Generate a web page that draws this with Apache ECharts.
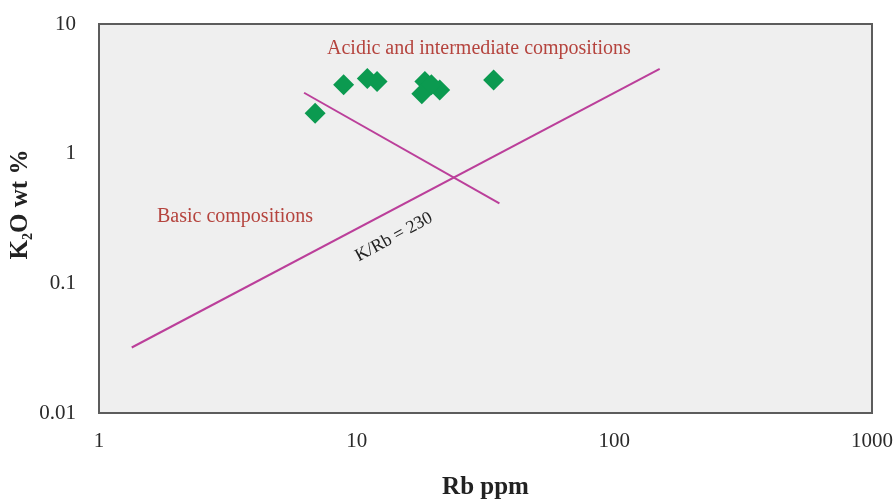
<!DOCTYPE html>
<html>
<head>
<meta charset="utf-8">
<script src="https://cdn.jsdelivr.net/npm/echarts@6/dist/echarts.min.js"></script>
<style>
  html, body { margin: 0; padding: 0; background: #fff; }
  #main { width: 895px; height: 499px; }
</style>
</head>
<body>
<div id="main"></div>
<script>
// sample points (Rb ppm, K2O wt %)
var rbValues = [6.9, 8.9, 11.0, 12.0, 18.4, 17.9, 21.0, 19.5, 34.0];
var k2oValues = [2.05, 3.4, 3.8, 3.6, 3.6, 2.9, 3.1, 3.4, 3.7];

// K/Rb = 230 reference line, end points
var kRbLineX = [1.34, 150];
var kRbLineY = [0.032, 4.5];

// divider between basic and acidic fields
var dividerX = [6.25, 35.8];
var dividerY = [2.95, 0.414];

var xTicks = [1, 10, 100, 1000];
var yTicks = [0.01, 0.1, 1, 10];

function pairs(xs, ys) {
  return xs.map(function (x, i) { return [x, ys[i]]; });
}

var chart = echarts.init(document.getElementById('main'));
var serif = 'Liberation Serif';

var option = {
  backgroundColor: '#ffffff',
  animation: false,
  grid: {
    left: 99,
    right: 23,
    top: 24,
    bottom: 86,
    containLabel: false,
    outerBoundsMode: 'none',
    show: true,
    backgroundColor: '#efefef',
    borderColor: '#5c5c5c',
    borderWidth: 2
  },
  xAxis: {
    type: 'log',
    logBase: 10,
    min: xTicks[0],
    max: xTicks[xTicks.length - 1],
    name: 'Rb ppm',
    nameLocation: 'middle',
    nameGap: 62,
    nameMoveOverlap: false,
    nameTextStyle: { fontFamily: serif, fontWeight: 'bold', fontSize: 25, color: '#222' },
    axisLine: { show: false },
    axisTick: { show: false },
    splitLine: { show: false },
    axisLabel: {
      margin: 18,
      fontFamily: serif,
      fontSize: 21,
      color: '#2a2a2a',
      formatter: function (v) { return String(v); }
    }
  },
  yAxis: {
    type: 'log',
    logBase: 10,
    min: yTicks[0],
    max: yTicks[yTicks.length - 1],
    name: '{a|K}{s|2}{a|O wt %}',
    nameLocation: 'middle',
    nameGap: 64,
    nameMoveOverlap: false,
    nameRotate: 90,
    nameTextStyle: {
      padding: [0, 0, 0, 28],
      rich: {
        a: { fontFamily: serif, fontWeight: 'bold', fontSize: 25, color: '#222', lineHeight: 28 },
        s: { fontFamily: serif, fontWeight: 'bold', fontSize: 14, color: '#222', lineHeight: 28, verticalAlign: 'bottom', padding: [8, 0, 0, 0] }
      }
    },
    axisLine: { show: false },
    axisTick: { show: false },
    splitLine: { show: false },
    axisLabel: {
      margin: 23,
      fontFamily: serif,
      fontSize: 21,
      color: '#2a2a2a',
      formatter: function (v) { return String(v); }
    }
  },
  series: [
    {
      type: 'line',
      data: pairs(kRbLineX, kRbLineY),
      showSymbol: false,
      symbol: 'none',
      lineStyle: { color: '#bb3f9a', width: 2 },
      z: 2
    },
    {
      type: 'line',
      data: pairs(dividerX, dividerY),
      showSymbol: false,
      symbol: 'none',
      lineStyle: { color: '#bb3f9a', width: 2 },
      z: 2
    },
    {
      type: 'scatter',
      symbol: 'diamond',
      symbolSize: 21,
      data: pairs(rbValues, k2oValues),
      itemStyle: { color: '#0b9a50', opacity: 1 },
      z: 3
    }
  ],
  graphic: [
    {
      type: 'text',
      left: 327,
      top: 39,
      style: { text: 'Acidic and intermediate compositions', font: '20px "Liberation Serif"', fill: '#b5443e' }
    },
    {
      type: 'text',
      left: 157,
      top: 207,
      style: { text: 'Basic compositions', font: '20px "Liberation Serif"', fill: '#b5443e' }
    },
    {
      type: 'text',
      x: 394,
      y: 237,
      rotation: 28.5 * Math.PI / 180,
      style: { text: 'K/Rb = 230', font: '18px "Liberation Serif"', fill: '#222', align: 'center', verticalAlign: 'middle' }
    }
  ]
};

chart.setOption(option);
</script>
</body>
</html>
